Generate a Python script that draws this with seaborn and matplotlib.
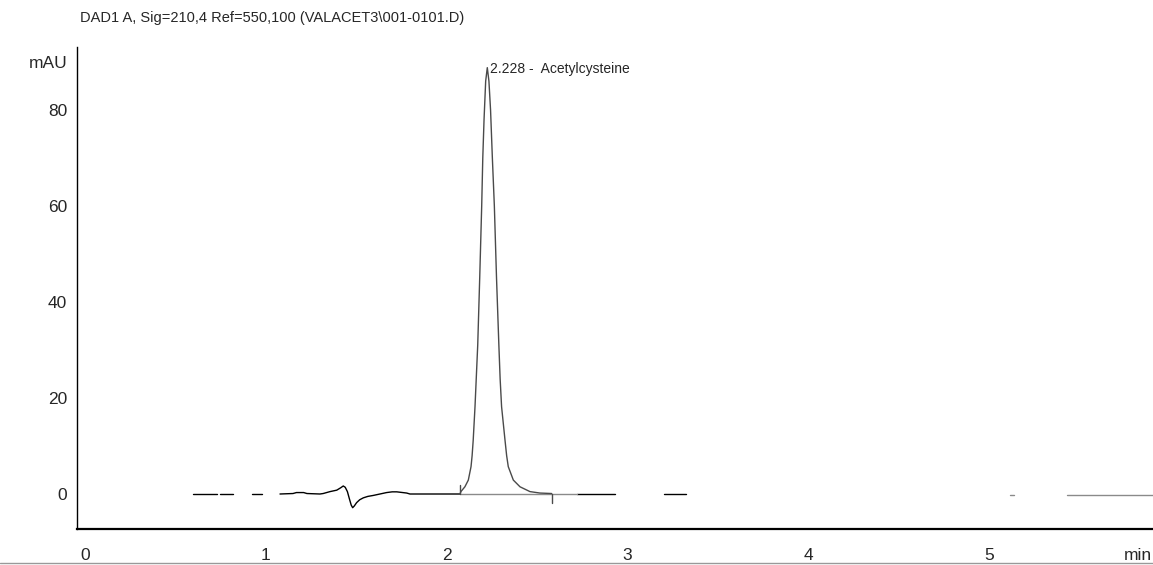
import pandas as pd
import seaborn as sns
import matplotlib.pyplot as plt
from matplotlib.lines import Line2D
from matplotlib.ticker import FixedLocator

# Chromatogram: time in min, signal in mAU
title = "DAD1 A, Sig=210,4 Ref=550,100 (VALACET3\\001-0101.D)"
peak_label = "2.228 -  Acetylcysteine"

# short baseline pieces (start, end, level, colour)
frag_start = [0.599, 0.747, 0.922, 2.582, 2.722, 3.203, 5.118, 5.433]
frag_end = [0.729, 0.820, 0.978, 2.722, 2.934, 3.325, 5.140, 5.909]
frag_level = [0.0, -0.1, 0.0, 0.0, 0.0, 0.0, -0.2, -0.3]
frag_kind = ["black", "black", "black", "gray", "black", "black", "gray", "gray"]

# continuous stretch with the injection disturbance
noise_t = [1.079, 1.151, 1.17, 1.21, 1.228, 1.30, 1.318, 1.356, 1.393, 1.415, 1.429, 1.440,
           1.452, 1.463, 1.473, 1.481, 1.490, 1.503, 1.520, 1.540, 1.565, 1.595, 1.632,
           1.669, 1.700, 1.725, 1.780, 1.798, 1.95, 2.075]
noise_y = [0.0, 0.1, 0.3, 0.3, 0.1, 0.0, 0.1, 0.5, 0.8, 1.3, 1.67, 1.4,
           0.5, -1.0, -2.3, -2.85, -2.5, -1.8, -1.2, -0.8, -0.5, -0.3, 0.0,
           0.3, 0.45, 0.45, 0.2, 0.0, 0.0, 0.0]

# the acetylcysteine peak
peak_t = [2.075, 2.080, 2.102, 2.121, 2.136, 2.142, 2.148, 2.158, 2.173, 2.184, 2.195, 2.201,
          2.208, 2.217, 2.226, 2.235, 2.244, 2.254, 2.265, 2.277, 2.290, 2.297, 2.305, 2.324,
          2.333, 2.342, 2.370, 2.407, 2.462, 2.517, 2.582]
peak_y = [0.0, 0.5, 1.5, 2.9, 5.7, 8.0, 11.2, 18.2, 31.0, 45.0, 60.0, 70.0,
          78.0, 86.0, 88.8, 86.0, 80.0, 70.0, 60.0, 45.0, 31.0, 24.0, 18.2, 11.2,
          8.0, 5.7, 2.9, 1.5, 0.5, 0.2, 0.1]

# integration baseline and its start / end marks
base_t = [2.075, 2.582]
base_y = [0.0, 0.0]
mark_t = [2.075, 2.582]
mark_h = [1.9, -1.9]

# build one long table, one "seg" per drawn piece
rows = []
seg = 0
for a, b, lv, k in zip(frag_start, frag_end, frag_level, frag_kind):
    rows += [(a, lv, seg, k), (b, lv, seg, k)]
    seg += 1
for t, y in zip(noise_t, noise_y):
    rows.append((t, y, seg, "black"))
seg += 1
for t, y in zip(peak_t, peak_y):
    rows.append((t, y, seg, "dark"))
seg += 1
for t, y in zip(base_t, base_y):
    rows.append((t, y, seg, "gray"))
seg += 1
for t, h in zip(mark_t, mark_h):
    rows += [(t, 0.0, seg, "dark"), (t, h, seg, "dark")]
    seg += 1
df = pd.DataFrame(rows, columns=["t", "mAU", "seg", "kind"])

sns.set_style("white")
plt.rcParams["font.family"] = ["Liberation Sans Narrow", "Liberation Sans", "DejaVu Sans"]

fig = plt.figure(figsize=(11.53, 5.65), dpi=100)
ax = fig.add_axes([0.067, 0.0632, 0.933, 0.8536])

sns.lineplot(data=df, x="t", y="mAU", units="seg", estimator=None, hue="kind",
             palette={"black": "black", "gray": "#8a8a8a", "dark": "#4a4a4a"},
             sort=False, legend=False, linewidth=1.0, ax=ax)

ax.set_xlim(-0.0426, 5.909)
ax.set_ylim(-7.35, 93.1)
ax.set_xlabel("")
ax.set_ylabel("")

for s in ["top", "right"]:
    ax.spines[s].set_visible(False)
ax.spines["left"].set_color("black")
ax.spines["left"].set_linewidth(1.0)
ax.spines["bottom"].set_color("black")
ax.spines["bottom"].set_linewidth(1.6)

ax.set_xticks([0, 1, 2, 3, 4, 5])
ax.set_xticklabels(["0", "1", "2", "3", "4", "5"])
ax.xaxis.set_minor_locator(FixedLocator([i * 0.2 for i in range(30) if i % 5]))
ax.tick_params(axis="x", which="major", direction="out", length=7.2, width=1,
               color="#888888", pad=6, labelsize=12.5)
ax.tick_params(axis="x", which="minor", direction="out", length=4.3, width=1, color="black")

ax.set_yticks([0, 20, 40, 60, 80, 90])
ax.set_yticklabels(["0", "20", "40", "60", "80", "mAU"])
ax.yaxis.set_minor_locator(FixedLocator([v for v in range(-5, 90, 5) if v % 20]))
ax.tick_params(axis="y", which="both", direction="out", length=4.3, width=1,
               color="black", pad=3, labelsize=12.5)

fig.text(80 / 1153, 1 - 18 / 565, title, ha="left", va="center", fontsize=10.5)

ax.annotate(peak_label, xy=(peak_t[14], peak_y[14]), xytext=(2, -1),
            textcoords="offset points", ha="left", va="center", fontsize=10)
ax.annotate("min", xy=(1.0, 0), xycoords="axes fraction",
            xytext=(-1, -13.2), textcoords="offset points", ha="right", va="top",
            fontsize=12.5, annotation_clip=False)

fig.add_artist(Line2D([0, 1], [0.003, 0.003], transform=fig.transFigure,
                      color="#999999", linewidth=1))

fig.savefig("out.png", dpi=100)
